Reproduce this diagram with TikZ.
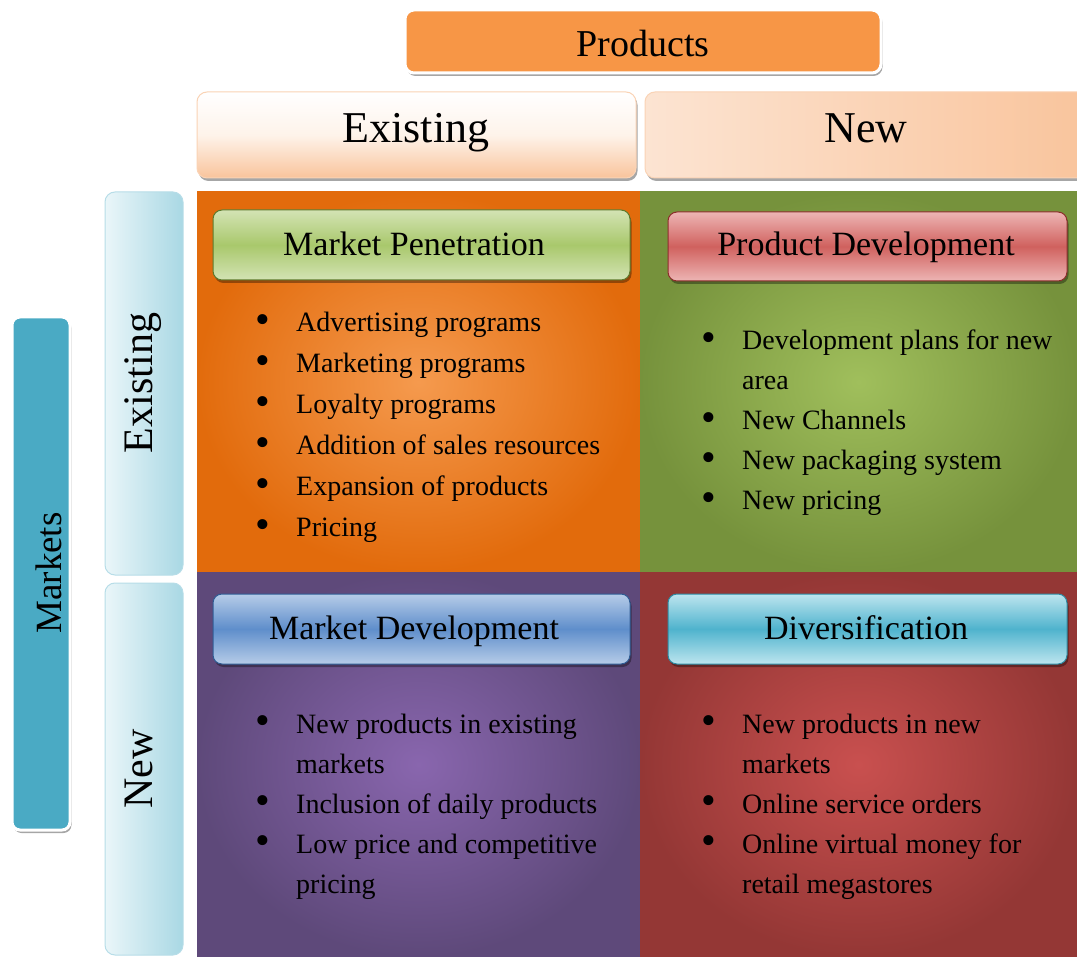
\documentclass[tikz,border=0pt]{standalone}
\usepackage{fontspec}
\usepackage{graphicx}
\setmainfont{Liberation Serif}
\usetikzlibrary{shadows}
\definecolor{qOrOut}{HTML}{E26B0C}
\definecolor{qOrIn}{HTML}{F59A4E}
\definecolor{qGrOut}{HTML}{76923C}
\definecolor{qGrIn}{HTML}{A0BF5C}
\definecolor{qPuOut}{HTML}{5E497A}
\definecolor{qPuIn}{HTML}{8966AE}
\definecolor{qReOut}{HTML}{943735}
\definecolor{qReIn}{HTML}{C9504F}
\definecolor{prodOr}{HTML}{F79646}
\definecolor{peachA}{HTML}{FEF3EA}
\definecolor{peachB}{HTML}{F9C49C}
\definecolor{peachC}{HTML}{FCE4D2}
\definecolor{peachLine}{HTML}{FAD3B5}
\definecolor{sideA}{HTML}{EAF6F9}
\definecolor{sideB}{HTML}{A9D8E4}
\definecolor{sideLine}{HTML}{B7DDE8}
\definecolor{mktFill}{HTML}{4AAAC4}
\definecolor{tGrA}{HTML}{D3E3B4}
\definecolor{tGrB}{HTML}{A9C86C}
\definecolor{tGrLine}{HTML}{5E7A2C}
\definecolor{tReA}{HTML}{EDB5B4}
\definecolor{tReB}{HTML}{D0615E}
\definecolor{tReLine}{HTML}{8C2E2C}
\definecolor{tBlA}{HTML}{B6CCE8}
\definecolor{tBlB}{HTML}{5F8ECB}
\definecolor{tBlLine}{HTML}{2F5C94}
\definecolor{tCyA}{HTML}{BDE5EF}
\definecolor{tCyB}{HTML}{4FB3CD}
\definecolor{tCyLine}{HTML}{2E8BA3}
\tikzset{
  shad/.style={drop shadow={shadow xshift=1.5pt, shadow yshift=-3pt, opacity=0.35, fill=black}},
  titlebox/.style={rounded corners=9pt, shad, line width=1pt},
  sidebox/.style={rounded corners=10pt, left color=sideA, right color=sideB, draw=sideLine, line width=1pt},
  headbox/.style={rounded corners=10pt, draw=peachLine, line width=1pt, shad},
  txt/.style={inner sep=0pt, anchor=base, text=black},
  listnode/.style={inner sep=0pt, anchor=base west, text=black},
}
\newcommand{\bul}{\raisebox{-1.5pt}{\scalebox{1.5}{\textbullet}}}
\newcommand{\mylist}[2]{\fontsize{28}{#1}\selectfont\renewcommand{\arraystretch}{1}\begin{tabular}[t]{@{}p{41pt}@{}l@{}}#2\end{tabular}}
\begin{document}
\begin{tikzpicture}[x=1pt,y=-1pt]
\useasboundingbox (0,0) rectangle (1077,957);
\fill[white] (0,0) rectangle (1077,957);

% Products header
\path[fill=prodOr, draw=white, line width=3pt, rounded corners=9pt, shad] (405,10) rectangle (881,73);
\node[txt, font=\fontsize{38}{40}\selectfont] (products) at (643,57) {Products};

% Column headers
\path[headbox, top color=white, bottom color=peachB, middle color=peachA] (197,92) rectangle (636,178);
\path[headbox, shading angle=60, left color=peachC, middle color=white, right color=peachB] (645,92) rectangle (1090,178);
\node[txt, font=\fontsize{44}{46}\selectfont] (colEx) at (416,143) {Existing};
\node[txt, font=\fontsize{44}{46}\selectfont] (colNew) at (866,143) {New};

% Markets box
\path[fill=mktFill, draw=white, line width=3pt, rounded corners=8pt, shad] (12,317) rectangle (70,830);
\node[txt, rotate=90, font=\fontsize{37}{39}\selectfont] (markets) at (61,573) {Markets};

% Row side boxes
\path[sidebox] (105,192) rectangle (183,575);
\path[sidebox] (105,583) rectangle (183,955);
\node[txt, rotate=90, font=\fontsize{42}{44}\selectfont] (rowEx) at (152,383) {Existing};
\node[txt, rotate=90, font=\fontsize{42}{44}\selectfont] (rowNew) at (152,769) {New};

% Quadrants
\shade[inner color=qOrIn, outer color=qOrOut] (197,192) rectangle (640,572);
\shade[inner color=qGrIn, outer color=qGrOut] (640,192) rectangle (1077,572);
\shade[inner color=qPuIn, outer color=qPuOut] (197,572) rectangle (640,957);
\shade[inner color=qReIn, outer color=qReOut] (640,572) rectangle (1077,957);

% Title boxes
\path[titlebox, top color=tGrA, bottom color=tGrA, middle color=tGrB, draw=tGrLine] (213,210) rectangle (630,280);
\path[titlebox, top color=tReA, bottom color=tReA, middle color=tReB, draw=tReLine] (668,212) rectangle (1067,281);
\path[titlebox, top color=tBlA, bottom color=tBlA, middle color=tBlB, draw=tBlLine] (213,594) rectangle (630,664);
\path[titlebox, top color=tCyA, bottom color=tCyA, middle color=tCyB, draw=tCyLine] (668,594) rectangle (1067,664);
\node[txt, font=\fontsize{34}{36}\selectfont] (tMP) at (414,256) {Market Penetration};
\node[txt, font=\fontsize{34}{36}\selectfont] (tPD) at (866,256) {Product Development};
\node[txt, font=\fontsize{34}{36}\selectfont] (tMD) at (414,639) {Market Development};
\node[txt, font=\fontsize{34}{36}\selectfont] (tDV) at (866,639) {Diversification};

% Lists
\node[listnode] (lMP) at (255,332) {\mylist{41}{%
\bul & Advertising programs\\
\bul & Marketing programs\\
\bul & Loyalty programs\\
\bul & Addition of sales resources\\
\bul & Expansion of products\\
\bul & Pricing}};
\node[listnode] (lPD) at (701,350) {\mylist{40}{%
\bul & Development plans for new\\
 & area\\
\bul & New Channels\\
\bul & New packaging system\\
\bul & New pricing}};
\node[listnode] (lMD) at (255,733) {\mylist{40}{%
\bul & New products in existing\\
 & markets\\
\bul & Inclusion of daily products\\
\bul & Low price and competitive\\
 & pricing}};
\node[listnode] (lDV) at (701,733) {\mylist{40}{%
\bul & New products in new\\
 & markets\\
\bul & Online service orders\\
\bul & Online virtual money for\\
 & retail megastores}};
\end{tikzpicture}
\end{document}
